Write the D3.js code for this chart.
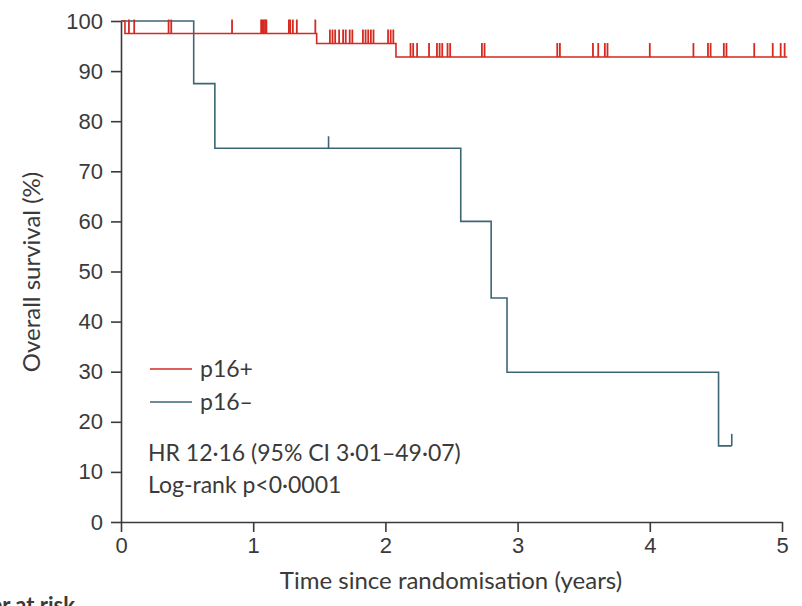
<!DOCTYPE html>
<html>
<head>
<meta charset="utf-8">
<script src="https://cdn.jsdelivr.net/npm/d3@7"></script>
<style>
  body { margin: 0; background: #fff; }
  svg { display: block; font-family: Lato, "Open Sans", sans-serif; }
</style>
</head>
<body>
<svg width="802" height="606"></svg>
<script>
// p16+ Kaplan-Meier steps (years, % survival)
const posTimes = [0, 0.03, 1.48, 2.08];
const posSurv = [100, 97.5, 95.5, 92.8];
const posEnd = 5.04;
const posCensored = [0.06, 0.10, 0.36, 0.38, 0.84, 1.06, 1.07, 1.08, 1.09, 1.10,
  1.27, 1.28, 1.30, 1.33, 1.47,
  1.58, 1.60, 1.62, 1.65, 1.68, 1.70, 1.73, 1.75, 1.83, 1.85, 1.87, 1.89, 1.91,
  2.02, 2.04, 2.06,
  2.19, 2.21, 2.24, 2.33, 2.39, 2.41, 2.43, 2.47, 2.49, 2.73, 2.75, 3.30, 3.32,
  3.57, 3.61, 3.66, 3.68, 4.00, 4.33, 4.44, 4.46, 4.56, 4.58, 4.79, 4.93, 4.99, 5.02];

// p16- steps
const negTimes = [0, 0.55, 0.71, 2.57, 2.80, 2.92, 4.52];
const negSurv = [100, 87.5, 74.6, 60, 44.7, 29.9, 15.2];
const negEnd = 4.62;
const negCensored = [1.57, 4.62];

const xTicks = [0, 1, 2, 3, 4, 5];
const yTicks = [0, 10, 20, 30, 40, 50, 60, 70, 80, 90, 100];

const red = "#d42a20", blue = "#3d6674", ink = "#3a3a3a";

const svg = d3.select("svg");
const x = d3.scaleLinear().domain([0, 5]).range([121, 782]);
const y = d3.scaleLinear().domain([0, 100]).range([522, 21]);

function steps(times, surv, end) {
  const pts = times.map((t, i) => [t, surv[i]]);
  pts.push([end, surv[surv.length - 1]]);
  return pts;
}
function survAt(times, surv, t) {
  let v = surv[0];
  times.forEach((tt, i) => { if (tt <= t) v = surv[i]; });
  return v;
}

const line = d3.line()
  .x(d => x(d[0]))
  .y(d => y(d[1]))
  .curve(d3.curveStepAfter);

// axes
const yAxis = svg.append("g")
  .attr("transform", "translate(121,0)")
  .call(d3.axisLeft(y).tickValues(yTicks).tickSize(10).tickSizeOuter(0).tickPadding(8));
const xAxis = svg.append("g")
  .attr("transform", "translate(0,522)")
  .call(d3.axisBottom(x).tickValues(xTicks).tickFormat(d3.format("d"))
    .tickSize(10).tickSizeOuter(0).tickPadding(5));

[xAxis, yAxis].forEach(g => {
  g.selectAll("path, line").attr("stroke", ink).attr("stroke-width", 1.6);
  g.selectAll("text").attr("fill", ink).attr("font-size", 22);
});

// curves
svg.append("path")
  .datum(steps(negTimes, negSurv, negEnd))
  .attr("fill", "none").attr("stroke", blue).attr("stroke-width", 1.6)
  .attr("d", line);

svg.append("path")
  .datum(steps(posTimes, posSurv, posEnd))
  .attr("fill", "none").attr("stroke", red).attr("stroke-width", 1.6)
  .attr("d", line);

// censor marks
svg.append("g").selectAll("line")
  .data(negCensored)
  .join("line")
  .attr("x1", d => x(d)).attr("x2", d => x(d))
  .attr("y1", d => y(survAt(negTimes, negSurv, d)))
  .attr("y2", d => y(survAt(negTimes, negSurv, d)) - 12)
  .attr("stroke", blue).attr("stroke-width", 1.6);

svg.append("g").selectAll("line")
  .data(posCensored)
  .join("line")
  .attr("x1", d => x(d)).attr("x2", d => x(d))
  .attr("y1", d => y(survAt(posTimes, posSurv, d)))
  .attr("y2", d => y(survAt(posTimes, posSurv, d)) - 14)
  .attr("stroke", red).attr("stroke-width", 1.8);

// legend
const legend = [{ label: "p16+", color: red, yy: 369 }, { label: "p16–", color: blue, yy: 402 }];
legend.forEach(l => {
  svg.append("line").attr("x1", 150).attr("x2", 192).attr("y1", l.yy).attr("y2", l.yy)
    .attr("stroke", l.color).attr("stroke-width", 1.4);
  svg.append("text").attr("x", 200).attr("y", l.yy + 8)
    .attr("font-size", 23).attr("fill", ink).text(l.label);
});

svg.append("text").attr("x", 148).attr("y", 461).attr("font-size", 23).attr("fill", ink)
  .text("HR 12·16 (95% CI 3·01–49·07)");
svg.append("text").attr("x", 148).attr("y", 493).attr("font-size", 23).attr("fill", ink)
  .text("Log-rank p<0·0001");

// axis titles
svg.append("text").attr("x", 451).attr("y", 589).attr("text-anchor", "middle")
  .attr("font-size", 24).attr("fill", ink).text("Time since randomisation (years)");
svg.append("text").attr("transform", "translate(40,272) rotate(-90)").attr("text-anchor", "middle")
  .attr("font-size", 24).attr("fill", ink).text("Overall survival (%)");

// cut-off risk table header
svg.append("text").attr("x", 75).attr("y", 613).attr("text-anchor", "end")
  .attr("font-size", 22).attr("font-weight", "bold").attr("fill", ink).text("Number at risk");
</script>
</body>
</html>
